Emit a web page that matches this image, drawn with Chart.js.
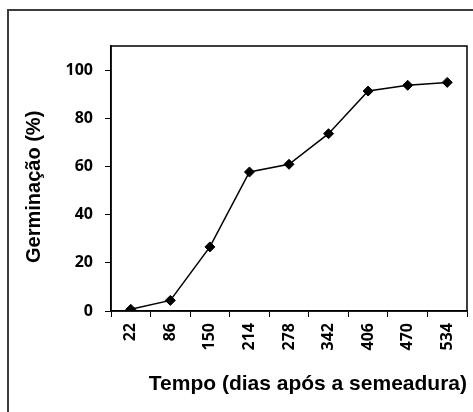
<!DOCTYPE html>
<html>
<head>
<meta charset="utf-8">
<script src="https://cdn.jsdelivr.net/npm/chart.js@4/dist/chart.umd.min.js"></script>
<style>
  body { margin: 0; background: #fff; overflow: hidden; }
  #wrap { position: relative; width: 473px; height: 412px; overflow: hidden; }
  #frame { position: absolute; left: 7px; top: 9px; width: 600px; height: 600px;
           border-left: 2px solid #3c3c3c; border-top: 2px solid #3c3c3c; }
  canvas { position: absolute; left: 0; top: 0; }
</style>
</head>
<body>
<div id="wrap">
  <div id="frame"></div>
  <canvas id="chart" width="473" height="412"></canvas>
</div>
<script>
// days after sowing
const dias = ['22', '86', '150', '214', '278', '342', '406', '470', '534'];
// germination (%)
const germinacao = [0.7, 4.4, 26.6, 57.7, 60.9, 73.6, 91.3, 93.7, 94.9];
const yTicks = [0, 20, 40, 60, 80, 100];

const tickFont = { family: 'Open Sans', weight: 'bold', size: 16 };
const xTitleFont = { family: 'Liberation Sans', weight: 'bold', size: 21 };
const yTitleFont = { family: 'Liberation Sans', weight: 'bold', size: 20 };

// draw the box round the plot area
const plotBox = {
    id: 'plotBox',
    afterDraw(chart) {
        const a = chart.chartArea;
        const ctx = chart.ctx;
        ctx.save();
        ctx.strokeStyle = '#000';
        ctx.lineWidth = 1.5;
        ctx.strokeRect(a.left, a.top, a.right - a.left, a.bottom - a.top);
        ctx.restore();
    }
};

new Chart(document.getElementById('chart'), {
    type: 'line',
    data: {
        labels: dias,
        datasets: [{
            data: germinacao,
            borderColor: '#000',
            backgroundColor: '#000',
            borderWidth: 1.5,
            pointStyle: 'rectRot',
            pointRadius: 5,
            pointBorderWidth: 1,
            tension: 0
        }]
    },
    options: {
        responsive: false,
        animation: false,
        layout: { padding: { left: 0, top: 46, right: 5, bottom: 0 } },
        plugins: { legend: { display: false }, tooltip: { enabled: false } },
        scales: {
            x: {
                offset: true,
                grid: { offset: true, drawOnChartArea: false, drawTicks: true, tickLength: 6, color: '#000' },
                border: { color: '#000', width: 1.5 },
                ticks: { color: '#000', font: tickFont, minRotation: 90, maxRotation: 90, padding: 6 },
                title: { display: true, text: 'Tempo (dias após a semeadura)', align: 'end',
                         color: '#000', font: xTitleFont, padding: { top: 0, bottom: 15 } },
                afterFit(scale) { scale.height = 101; }
            },
            y: {
                min: 0,
                max: 110,
                grid: { drawOnChartArea: false, drawTicks: true, tickLength: 6, color: '#000' },
                border: { color: '#000', width: 1.5 },
                ticks: { color: '#000', font: tickFont, stepSize: 20, padding: 12 },
                afterBuildTicks(scale) { scale.ticks = yTicks.map(v => ({ value: v })); },
                title: { display: true, text: 'Germinação (%)   ',
                         color: '#000', font: yTitleFont, padding: { top: 22, bottom: 0 } },
                afterFit(scale) { scale.width = 111; }
            }
        }
    },
    plugins: [plotBox]
});
</script>
</body>
</html>
